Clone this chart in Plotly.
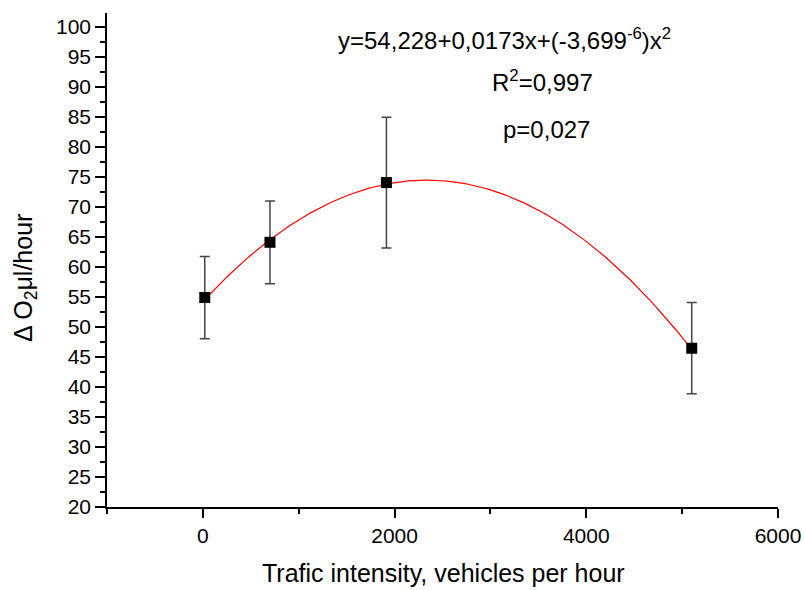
import numpy as np
import plotly.graph_objects as go

# Data
traffic = [20, 700, 1915, 5100]
delta_o2 = [54.9, 64.1, 74.05, 46.45]
err_plus = [6.85, 6.9, 10.9, 7.6]
err_minus = [6.85, 6.9, 10.9, 7.6]

# Fit coefficients shown on the chart
fit_a = 54.228
fit_b = 0.0173
fit_c = -3.699e-6

x_ticks = [0, 2000, 4000, 6000]
y_ticks = list(range(20, 101, 5))

fx = np.linspace(min(traffic), max(traffic), 300)
fy = fit_a + fit_b * fx + fit_c * fx ** 2

FONT = "Liberation Sans, Arial, sans-serif"

fig = go.Figure()
fig.add_trace(go.Scatter(x=fx, y=fy, mode="lines",
                         line=dict(color="#ff0000", width=1.2),
                         hoverinfo="skip", showlegend=False))
fig.add_trace(go.Scatter(x=traffic, y=delta_o2, mode="markers",
                         marker=dict(symbol="square", size=11, color="black"),
                         error_y=dict(type="data", symmetric=False,
                                      array=err_plus, arrayminus=err_minus,
                                      color="#444444", thickness=1.5, width=5),
                         showlegend=False))

fig.update_layout(
    width=804, height=590,
    margin=dict(l=107, r=26, t=13, b=83),
    paper_bgcolor="white", plot_bgcolor="white",
    font=dict(family=FONT, size=21, color="black"),
    xaxis=dict(range=[-1000, 6000], tickvals=x_ticks, automargin=False,
               showgrid=False, zeroline=False,
               showline=True, linecolor="black", linewidth=1.5,
               ticks="outside", ticklen=9, tickwidth=1.5, tickcolor="black",
               minor=dict(dtick=1000, tick0=-1000, ticks="outside", ticklen=5,
                          tickwidth=1.5, tickcolor="black", showgrid=False),
               tickfont=dict(size=21)),
    yaxis=dict(range=[20, 102.3], tickvals=y_ticks, automargin=False,
               showgrid=False, zeroline=False,
               showline=True, linecolor="black", linewidth=1.5,
               ticks="outside", ticklen=10, tickwidth=1.5, tickcolor="black",
               minor=dict(dtick=2.5, tick0=20, ticks="outside", ticklen=5,
                          tickwidth=1.5, tickcolor="black", showgrid=False),
               tickfont=dict(size=21)),
)

def px_x(p):
    return (p - 107) / 671

def px_y(p):
    return 1 - (p - 13) / 494

def note(text, x, y, size, angle=0):
    fig.add_annotation(text=text, textangle=angle,
                       xref="paper", yref="paper", x=px_x(x), y=px_y(y),
                       xanchor="center", yanchor="middle",
                       showarrow=False, font=dict(size=size))

note("Trafic intensity, vehicles per hour", 443, 573, 25)
note("\u0394 O<sub>2</sub>\u03bcl/hour", 25, 278, 25, -90)
note("y=54,228+0,0173x+(-3,699<sup>-6</sup>)x<sup>2</sup>", 504, 39, 24)
note("R<sup>2</sup>=0,997", 542, 81, 24)
note("p=0,027", 546, 129, 24)

fig.write_html("out.html", config={"displayModeBar": False},
               post_script="document.body.style.margin='0';document.body.style.overflow='hidden';")
